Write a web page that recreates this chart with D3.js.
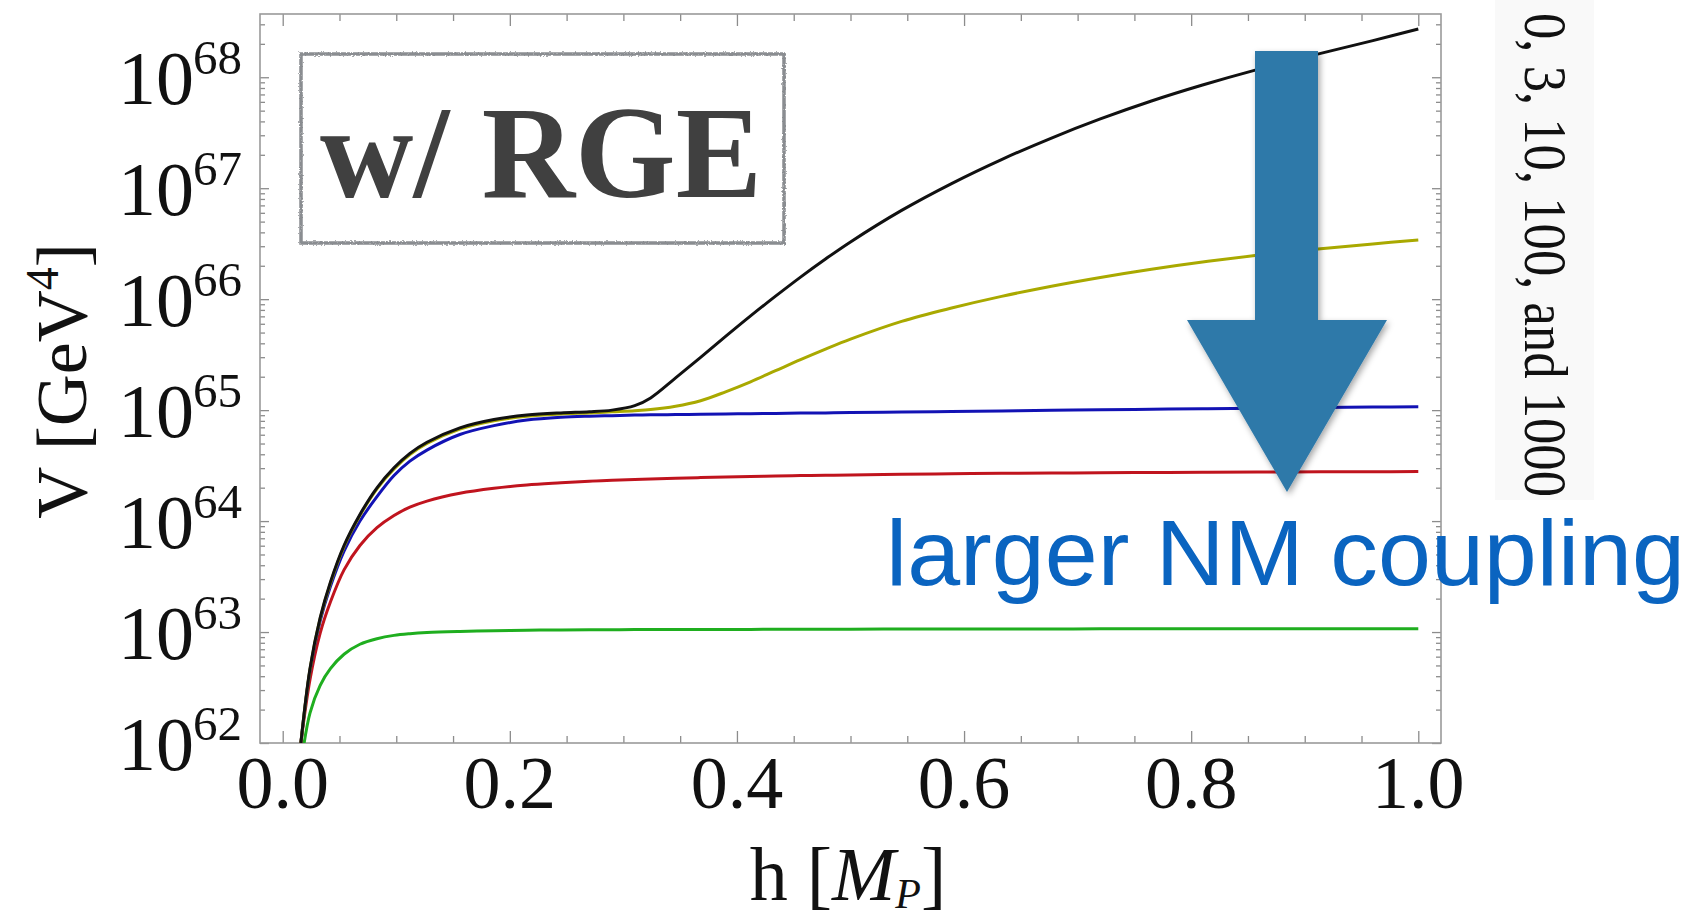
<!DOCTYPE html>
<html>
<head>
<meta charset="utf-8">
<script src="https://cdn.jsdelivr.net/npm/d3@7"></script>
<style>
  body { margin: 0; background: #fff; }
  svg { display: block; }
  .serif { font-family: "Liberation Serif", "DejaVu Serif", serif; }
</style>
</head>
<body>
<svg width="1698" height="917"></svg>
<script>
// h in units of M_P, shared by all curves
const hGrid = [0.016, 0.024, 0.033, 0.042, 0.054, 0.068, 0.083, 0.098, 0.112, 0.127,
  0.156, 0.186, 0.215, 0.245, 0.27, 0.29, 0.31, 0.324, 0.346, 0.368, 0.39, 0.412,
  0.434, 0.456, 0.478, 0.5, 0.545, 0.589, 0.633, 0.677, 0.72, 0.765, 0.81, 0.858,
  0.914, 0.96, 1.0];

// log10 of V [GeV^4] (xi = 0, 3, 10, 100, 1000)
const logV_xi0 = [62.0, 62.67, 63.13, 63.45, 63.78, 64.06, 64.30, 64.48, 64.61, 64.71,
  64.84, 64.915, 64.955, 64.975, 64.985, 65.0, 65.04, 65.11, 65.29, 65.475, 65.664, 65.849,
  66.027, 66.199, 66.362, 66.516, 66.80, 67.042, 67.258, 67.452, 67.624, 67.786, 67.93, 68.069,
  68.215, 68.33, 68.435];
const logV_xi3 = [62.0, 62.66, 63.12, 63.44, 63.77, 64.05, 64.29, 64.47, 64.60, 64.70,
  64.83, 64.905, 64.945, 64.965, 64.975, 64.985, 64.995, 65.005, 65.035, 65.085, 65.165, 65.255,
  65.355, 65.455, 65.55, 65.64, 65.80, 65.92, 66.025, 66.117, 66.196, 66.27, 66.335, 66.395,
  66.455, 66.498, 66.533];
const logV_xi10 = [62.0, 62.65, 63.10, 63.41, 63.73, 64.0, 64.22, 64.41, 64.54, 64.64,
  64.78, 64.86, 64.91, 64.935, 64.945, 64.95, 64.955, 64.958, 64.96, 64.963, 64.965, 64.968,
  64.97, 64.973, 64.975, 64.978, 64.983, 64.988, 64.993, 64.998, 65.003, 65.008, 65.013, 65.018,
  65.024, 65.028, 65.03];
const logV_xi100 = [62.0, 62.57, 62.99, 63.27, 63.56, 63.78, 63.94, 64.05, 64.125, 64.18,
  64.25, 64.295, 64.325, 64.345, 64.36, 64.368, 64.375, 64.38, 64.386, 64.392, 64.397, 64.402,
  64.406, 64.41, 64.413, 64.416, 64.421, 64.426, 64.43, 64.433, 64.436, 64.438, 64.44, 64.442,
  64.444, 64.445, 64.446];
const logV_xi1000 = [61.8, 62.27, 62.52, 62.67, 62.80, 62.89, 62.94, 62.97, 62.985, 62.995,
  63.005, 63.012, 63.016, 63.019, 63.02, 63.021, 63.022, 63.022, 63.023, 63.023, 63.024, 63.024,
  63.025, 63.025, 63.026, 63.026, 63.027, 63.027, 63.028, 63.028, 63.029, 63.029, 63.03,
  63.03, 63.03, 63.03, 63.03];

const seriesColors = ['#111111', '#a9a900', '#1212b4', '#c0141e', '#1fae1f'];
const xTickLabels = ['0.0', '0.2', '0.4', '0.6', '0.8', '1.0'];
const yDecades = [62, 63, 64, 65, 66, 67, 68];
const couplingText = '0, 3, 10, 100, and 1000';

const svg = d3.select('svg');
const pLeft = 260, pRight = 1441, pTop = 14, pBottom = 743;

const x = d3.scaleLinear().domain([-0.02, 1.02]).range([pLeft, pRight]);
const y = d3.scaleLog().domain([1e62, Math.pow(10, 68.57)]).range([pBottom, pTop]);

const defs = svg.append('defs');
defs.append('clipPath').attr('id', 'plotclip')
  .append('rect').attr('x', pLeft).attr('y', pTop)
  .attr('width', pRight - pLeft).attr('height', pBottom - pTop);

const rough = defs.append('filter').attr('id', 'rough')
  .attr('x', '-5%').attr('y', '-5%').attr('width', '110%').attr('height', '110%');
rough.append('feTurbulence').attr('type', 'fractalNoise')
  .attr('baseFrequency', 0.6).attr('numOctaves', 2).attr('result', 'noise');
rough.append('feDisplacementMap').attr('in', 'SourceGraphic').attr('in2', 'noise')
  .attr('scale', 3);

const shadow = defs.append('filter').attr('id', 'shadow')
  .attr('x', '-20%').attr('y', '-10%').attr('width', '140%').attr('height', '130%');
shadow.append('feDropShadow').attr('dx', 2).attr('dy', 3)
  .attr('stdDeviation', 3).attr('flood-opacity', 0.35);

// light strip behind the rotated coupling list
svg.append('rect').attr('x', 1495).attr('y', 0).attr('width', 99).attr('height', 500)
  .attr('fill', '#f9f9f9');

// ticks
const minorY = [];
yDecades.forEach(e => {
  for (let k = 2; k <= 9; k++) minorY.push(k * Math.pow(10, e));
});
const majorY = yDecades.map(e => Math.pow(10, e));
const minorX = d3.range(0, 1.0001, 0.05).filter(v => Math.abs(v * 5 - Math.round(v * 5)) > 1e-6);
const majorX = d3.range(0, 1.0001, 0.2);

function addAxis(axisFn, scale, vals, size, transform) {
  const g = svg.append('g').attr('transform', transform)
    .call(axisFn(scale).tickValues(vals).tickSize(-size).tickFormat(''));
  g.select('.domain').remove();
  g.selectAll('line').attr('stroke', '#8c8c8c').attr('stroke-width', 1.3);
}
const minorYIn = minorY.filter(v => v < y.domain()[1]);
addAxis(d3.axisLeft, y, minorYIn, 5, `translate(${pLeft},0)`);
addAxis(d3.axisLeft, y, majorY, 9, `translate(${pLeft},0)`);
addAxis(d3.axisRight, y, minorYIn, 5, `translate(${pRight},0)`);
addAxis(d3.axisRight, y, majorY, 9, `translate(${pRight},0)`);
addAxis(d3.axisBottom, x, minorX, 7, `translate(0,${pBottom})`);
addAxis(d3.axisBottom, x, majorX, 12, `translate(0,${pBottom})`);
addAxis(d3.axisTop, x, minorX, 7, `translate(0,${pTop})`);
addAxis(d3.axisTop, x, majorX, 12, `translate(0,${pTop})`);

// frame
svg.append('rect').attr('x', pLeft).attr('y', pTop)
  .attr('width', pRight - pLeft).attr('height', pBottom - pTop)
  .attr('fill', 'none').attr('stroke', '#9a9a9a').attr('stroke-width', 1.6);

// tick labels
svg.selectAll('.xlab').data(majorX).enter().append('text')
  .attr('class', 'serif').attr('x', d => x(d)).attr('y', 808)
  .attr('text-anchor', 'middle').attr('font-size', 74).attr('fill', '#111')
  .text((d, i) => xTickLabels[i]);

const ylab = svg.selectAll('.ylab').data(yDecades).enter().append('g');
ylab.append('text').attr('class', 'serif')
  .attr('x', 194).attr('y', d => y(Math.pow(10, d)) + 27)
  .attr('text-anchor', 'end').attr('font-size', 76).attr('fill', '#111')
  .text('10');
ylab.append('text').attr('class', 'serif')
  .attr('x', 193).attr('y', d => y(Math.pow(10, d)) - 3)
  .attr('font-size', 49).attr('fill', '#111')
  .text(d => d);

// axis titles
const yt = svg.append('text').attr('class', 'serif')
  .attr('transform', 'translate(86,381) rotate(-90)')
  .attr('text-anchor', 'middle').attr('font-size', 72).attr('fill', '#111');
yt.append('tspan').text('V [GeV');
yt.append('tspan').attr('font-size', 46).attr('dy', -28).text('4');
yt.append('tspan').attr('dy', 28).text(']');

const xt = svg.append('text').attr('class', 'serif')
  .attr('x', 848).attr('y', 900)
  .attr('text-anchor', 'middle').attr('font-size', 76).attr('fill', '#111');
xt.append('tspan').text('h [');
xt.append('tspan').attr('font-style', 'italic').text('M');
xt.append('tspan').attr('font-style', 'italic').attr('font-size', 42).attr('dy', 8).text('P');
xt.append('tspan').attr('dy', -8).text(']');

// curves
const allSeries = [logV_xi0, logV_xi3, logV_xi10, logV_xi100, logV_xi1000];
const line = d3.line()
  .x((d, i) => x(hGrid[i]))
  .y(d => y(Math.pow(10, d)))
  .curve(d3.curveCatmullRom.alpha(0.5));

svg.append('g').attr('clip-path', 'url(#plotclip)')
  .selectAll('path').data(allSeries.slice().reverse()).enter().append('path')
  .attr('d', line)
  .attr('fill', 'none')
  .attr('stroke', (d, i) => seriesColors[seriesColors.length - 1 - i])
  .attr('stroke-width', 3);

// "w/ RGE" box
svg.append('rect').attr('x', 301).attr('y', 54).attr('width', 483).attr('height', 189)
  .attr('fill', 'none').attr('stroke', '#8a8d91').attr('stroke-width', 3.5)
  .attr('filter', 'url(#rough)');
svg.append('text').attr('class', 'serif')
  .attr('x', 320).attr('y', 197)
  .attr('font-size', 132).attr('font-weight', 'bold').attr('fill', '#404040')
  .attr('textLength', 442).attr('lengthAdjust', 'spacingAndGlyphs')
  .text('w/ RGE');

// big arrow
const arrow = d3.path();
arrow.moveTo(1255, 51);
arrow.lineTo(1318, 51);
arrow.lineTo(1318, 320);
arrow.lineTo(1387, 320);
arrow.lineTo(1287, 492);
arrow.lineTo(1187, 320);
arrow.lineTo(1255, 320);
arrow.closePath();
svg.append('path').attr('d', arrow.toString())
  .attr('fill', '#2f79a9').attr('filter', 'url(#shadow)');

// annotation text
svg.append('text')
  .attr('x', 886).attr('y', 585)
  .attr('font-family', '"Liberation Sans", Arial, sans-serif')
  .attr('font-size', 93).attr('fill', '#0a64c0')
  .attr('textLength', 799).attr('lengthAdjust', 'spacingAndGlyphs')
  .text('larger NM coupling');

svg.append('text').attr('class', 'serif')
  .attr('transform', 'translate(1525,13) rotate(90)')
  .attr('font-size', 62).attr('fill', '#111')
  .attr('textLength', 484).attr('lengthAdjust', 'spacingAndGlyphs')
  .text(couplingText);
</script>
</body>
</html>
